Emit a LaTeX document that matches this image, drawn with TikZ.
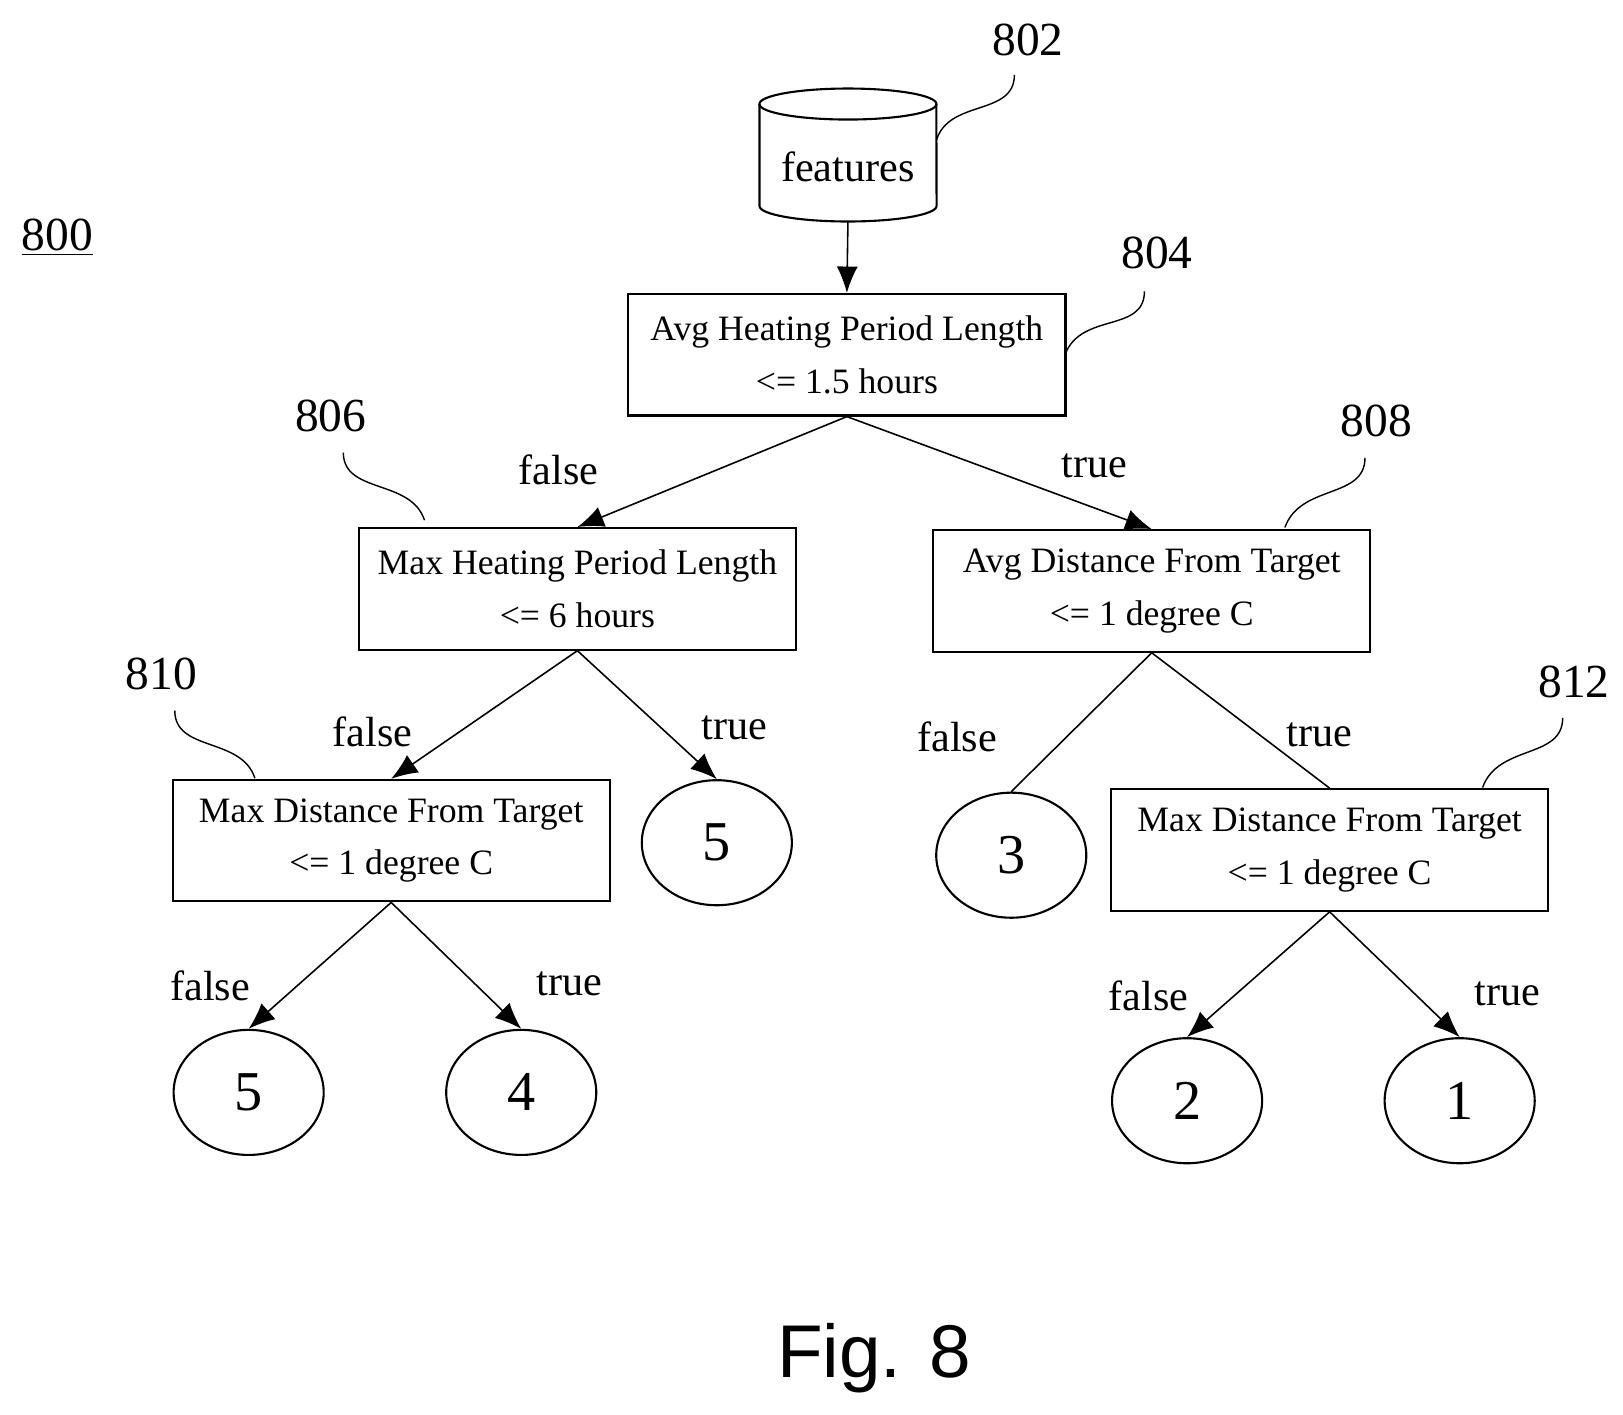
\documentclass[tikz,border=0pt]{standalone}
\usepackage{fontspec}
\setmainfont{Liberation Serif}
\newfontfamily\figfont{Liberation Sans}
\usetikzlibrary{shapes.geometric,arrows.meta}
\begin{document}
\begin{tikzpicture}[x=0.0208cm,y=-0.0208cm,
 box/.style={draw,line width=1.2pt,minimum width=8.74cm,minimum height=2.43cm,align=center,font=\fontsize{20.3}{30}\selectfont,inner sep=0},
 leaf/.style={draw,ellipse,line width=1.2pt,minimum width=3.0cm,minimum height=2.5cm,inner sep=0,font=\fontsize{32}{32}\selectfont},
 lab/.style={font=\fontsize{24}{24}\selectfont},
 num/.style={font=\fontsize{27}{27}\selectfont},
 arr/.style={-{Latex[length=15pt,width=12pt]},line width=0.9pt},
 ln/.style={line width=0.9pt},
 lead/.style={line width=0.8pt}]
\useasboundingbox (0,0) rectangle (1560,1360);
% cylinder
\draw[line width=1.2pt,fill=white] (730,100) -- (730,198) arc[start angle=180,end angle=360,x radius=1.77cm,y radius=0.31cm] -- (900,100);
\draw[line width=1.2pt] (815,100) ellipse [x radius=1.77cm,y radius=0.31cm];
\node[font=\fontsize{24}{24}\selectfont] (feat) at (815,160) {features};
\coordinate (cylb) at (815,213);
\node[num] (l802) at (988,38) {802};
\draw[lead] (900,135) .. controls (912,95) and (975,112) .. (975,72);
\node[num] (l800) at (55,228) {\underline{800}};
% boxes
\node[box] (n804) at (814,341) {Avg Heating Period Length\\ <= 1.5 hours};
\node[box] (n806) at (555,566) {Max Heating Period Length\\ <= 6 hours};
\node[box] (n808) at (1107,568) {Avg Distance From Target\\ <= 1 degree C};
\node[box] (n810) at (376,808) {Max Distance From Target\\ <= 1 degree C};
\node[box] (n812) at (1278,817) {Max Distance From Target\\ <= 1 degree C};
\node[num] (l804) at (1112,243) {804};
\draw[lead] (1024,340) .. controls (1040,300) and (1100,320) .. (1100,280);
\node[num] (l806) at (318,400) {806};
\draw[lead] (408,500) .. controls (395,460) and (330,475) .. (330,435);
\node[num] (l808) at (1323,405) {808};
\draw[lead] (1235,507) .. controls (1250,465) and (1312,480) .. (1312,440);
\node[num] (l810) at (155,648) {810};
\draw[lead] (245,748) .. controls (232,708) and (168,723) .. (168,683);
\node[num] (l812) at (1513,655) {812};
\draw[lead] (1425,757) .. controls (1440,715) and (1502,730) .. (1502,690);
% leaves
\node[leaf] (a5) at (689,810) {5};
\node[leaf] (a3) at (972,822) {3};
\node[leaf] (b5) at (239,1050) {5};
\node[leaf] (b4) at (501,1050) {4};
\node[leaf] (c2) at (1141,1058) {2};
\node[leaf] (c1) at (1403,1058) {1};
% edges
\draw[arr] (cylb) -- (n804.north);
\draw[arr] (n804.south) -- (n806.north);
\draw[arr] (n804.south) -- (n808.north);
\draw[arr] (n806.south) -- (n810.north);
\draw[arr] (n806.south) -- (a5.north);
\draw[ln] (n808.south) -- (a3.north);
\draw[ln] (n808.south) -- (n812.north);
\draw[arr] (n810.south) -- (b5.north);
\draw[arr] (n810.south) -- (b4.north);
\draw[arr] (n812.south) -- (c2.north);
\draw[arr] (n812.south) -- (c1.north);
% edge labels
\node[lab] (f1) at (537,452) {false};
\node[lab] (t1) at (1052,448) {true};
\node[lab] (f2) at (358,703) {false};
\node[lab] (t2) at (706,700) {true};
\node[lab] (f3) at (920,708) {false};
\node[lab] (t3) at (1268,706) {true};
\node[lab] (f4) at (202,948) {false};
\node[lab] (t4) at (547,946) {true};
\node[lab] (f5) at (1104,957) {false};
\node[lab] (t5) at (1449,955) {true};
\node[font=\figfont\fontsize{42.5}{42.5}\selectfont] (fig) at (840,1305) {Fig. 8};
\end{tikzpicture}
\end{document}
